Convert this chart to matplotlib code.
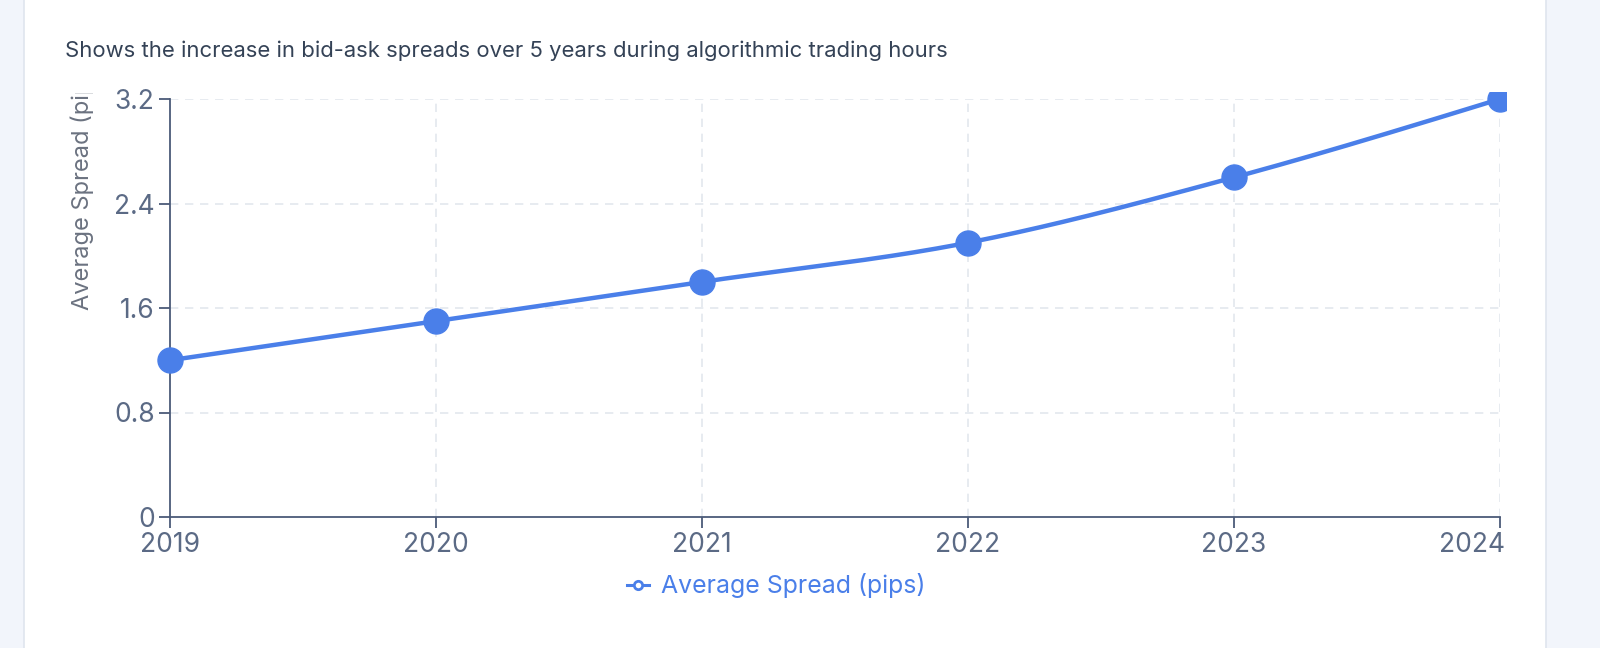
import numpy as np
import matplotlib.pyplot as plt
from matplotlib.lines import Line2D
from matplotlib.patches import Rectangle
from matplotlib.transforms import Bbox, ScaledTranslation

plt.rcParams['font.family'] = ['Inter', 'DejaVu Sans']

years = [2019, 2020, 2021, 2022, 2023, 2024]
spread = [1.2, 1.5, 1.8, 2.1, 2.6, 3.2]
y_ticks = [0, 0.8, 1.6, 2.4, 3.2]
title = "Shows the increase in bid-ask spreads over 5 years during algorithmic trading hours"
series_name = "Average Spread (pips)"

blue = '#4a7fe9'
axis_col = '#4b5a78'
tick_col = '#5b6a85'
grid_col = '#e3e7ee'

W, H = 1600, 648


def monotone_x(x, y, n=60):
    # same shape as d3 curveMonotoneX
    x = np.asarray(x, float)
    y = np.asarray(y, float)
    h = np.diff(x)
    s = np.diff(y) / h
    t = np.zeros(len(x))
    for i in range(1, len(x) - 1):
        p = (s[i - 1] * h[i] + s[i] * h[i - 1]) / (h[i - 1] + h[i])
        t[i] = (np.sign(s[i - 1]) + np.sign(s[i])) * min(abs(s[i - 1]), abs(s[i]), 0.5 * abs(p))
    t[0] = (3 * s[0] - t[1]) / 2
    t[-1] = (3 * s[-1] - t[-2]) / 2
    xs, ys = [], []
    for i in range(len(x) - 1):
        u = np.linspace(0, 1, n)
        h00 = 2 * u**3 - 3 * u**2 + 1
        h10 = u**3 - 2 * u**2 + u
        h01 = -2 * u**3 + 3 * u**2
        h11 = u**3 - u**2
        xs.append(x[i] + u * h[i])
        ys.append(h00 * y[i] + h10 * h[i] * t[i] + h01 * y[i + 1] + h11 * h[i] * t[i + 1])
    return np.concatenate(xs), np.concatenate(ys)


fig = plt.figure(figsize=(W / 100, H / 100), dpi=100)
fig.patch.set_facecolor('#f2f5fb')
fig.patches.append(Rectangle((24 / W, -0.1), (1546 - 24) / W, 1.2, transform=fig.transFigure,
                             facecolor='white', edgecolor='#dfe5ee', linewidth=1.2, zorder=-10))

ax = fig.add_axes([170 / W, (H - 517) / H, (1500 - 170) / W, (517 - 99) / H])
ax.set_facecolor('none')

ax.set_xlim(years[0], years[-1])
ax.set_ylim(0, 3.2)
ax.set_xticks(years)
ax.set_xticklabels([str(y) for y in years])
ax.set_yticks(y_ticks)
ax.set_yticklabels(['0', '0.8', '1.6', '2.4', '3.2'])

for y in y_ticks[1:]:
    ax.axhline(y, color=grid_col, lw=1.2, dashes=(5, 4), zorder=1)
for x in years[1:]:
    ax.axvline(x, color=grid_col, lw=1.2, dashes=(5, 4), zorder=1)

for side in ['top', 'right']:
    ax.spines[side].set_visible(False)
for side in ['left', 'bottom']:
    ax.spines[side].set_color(axis_col)
    ax.spines[side].set_linewidth(1.3)
ax.tick_params(colors=axis_col, labelcolor=tick_col, labelsize=19, length=8, width=1.3, pad=3)

clip = Rectangle((150, 0), 1506 - 150, H - 92, transform=None)
cx, cy = monotone_x(years, spread)
line, = ax.plot(cx, cy, color=blue, lw=3.2, zorder=3, solid_capstyle='round')
pts, = ax.plot(years, spread, 'o', color=blue, ms=18, zorder=4)
for a in (line, pts):
    a.set_clip_path(clip)

# shift last x label left like the original
lbls = ax.get_xticklabels()
lbls[-1].set_horizontalalignment('right')
lbls[-1].set_transform(lbls[-1].get_transform() + ScaledTranslation(5 / 100, 0, fig.dpi_scale_trans))

fig.text(65 / W, 1 - 57 / H, title, fontsize=15.9, color='#344256', va='baseline', ha='left')

yl = fig.text(82 / W, 1 - 310 / H, series_name, rotation=90, fontsize=17, color='#6b7280',
              ha='center', va='bottom')
yl.set_clip_on(True)
yl.set_clip_box(Bbox.from_extents(0, 0, W, H - 93))

handle = Line2D([], [], color=blue, lw=2.2, marker='o', ms=6, mfc='white', mec=blue, mew=2)
fig.legend([handle], [series_name], loc='center', bbox_to_anchor=(776 / W, 1 - 586 / H),
           frameon=False, fontsize=17.9, labelcolor=blue, handlelength=0.9, handletextpad=0.45)

fig.savefig('out.png', dpi=100, facecolor=fig.get_facecolor())
